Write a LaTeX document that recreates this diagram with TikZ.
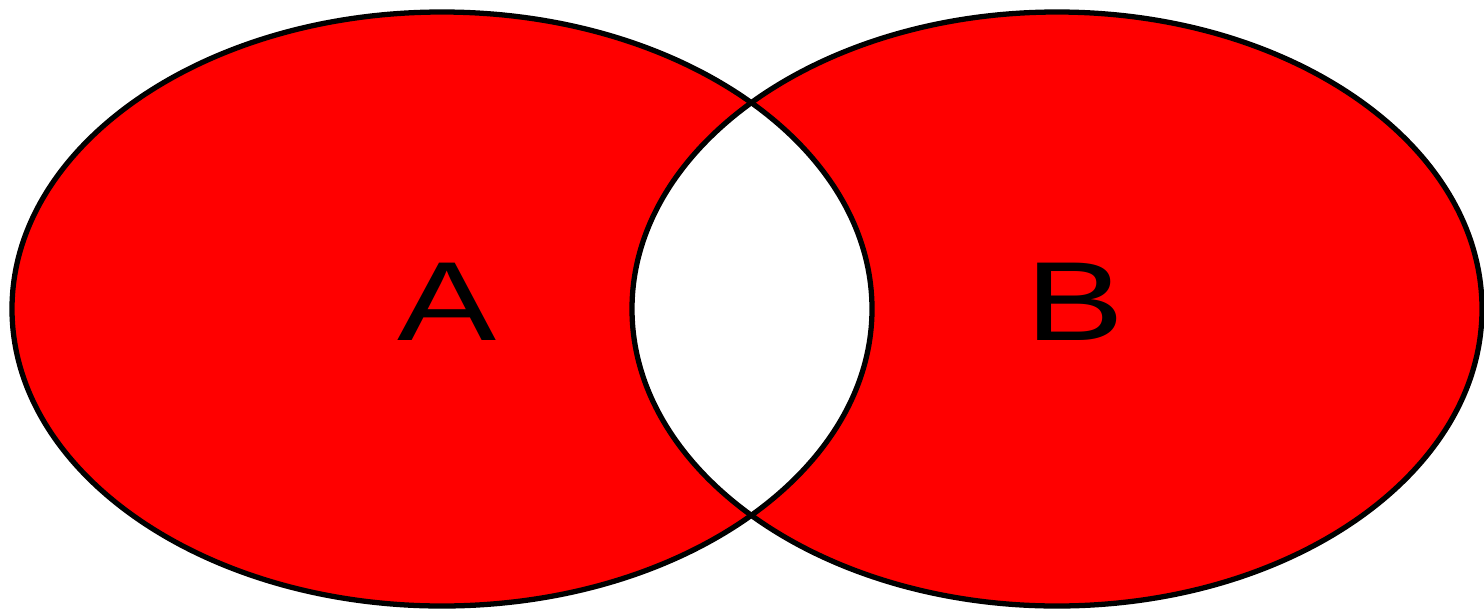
\documentclass[tikz,border=0pt]{standalone}
\usepackage{fontspec}
\setmainfont{Liberation Sans}
\begin{document}
\begin{tikzpicture}
    \useasboundingbox (0,0) rectangle (14.84,6.08);
    % symmetric difference in red
    \fill[red,even odd rule]
      (4.42,2.99) ellipse (4.30 and 2.97)
      (10.57,2.99) ellipse (4.25 and 2.97);
    \draw[black,line width=1.5pt] (4.42,2.99) ellipse (4.30 and 2.97);
    \draw[black,line width=1.5pt] (10.57,2.99) ellipse (4.25 and 2.97);
    \node[font=\fontsize{32}{32}\selectfont,xscale=1.32] (setA) at (4.47,3.06) {A};
    \node[font=\fontsize{32}{32}\selectfont,xscale=1.32] (setB) at (10.75,3.06) {B};
  \end{tikzpicture}
\end{document}
